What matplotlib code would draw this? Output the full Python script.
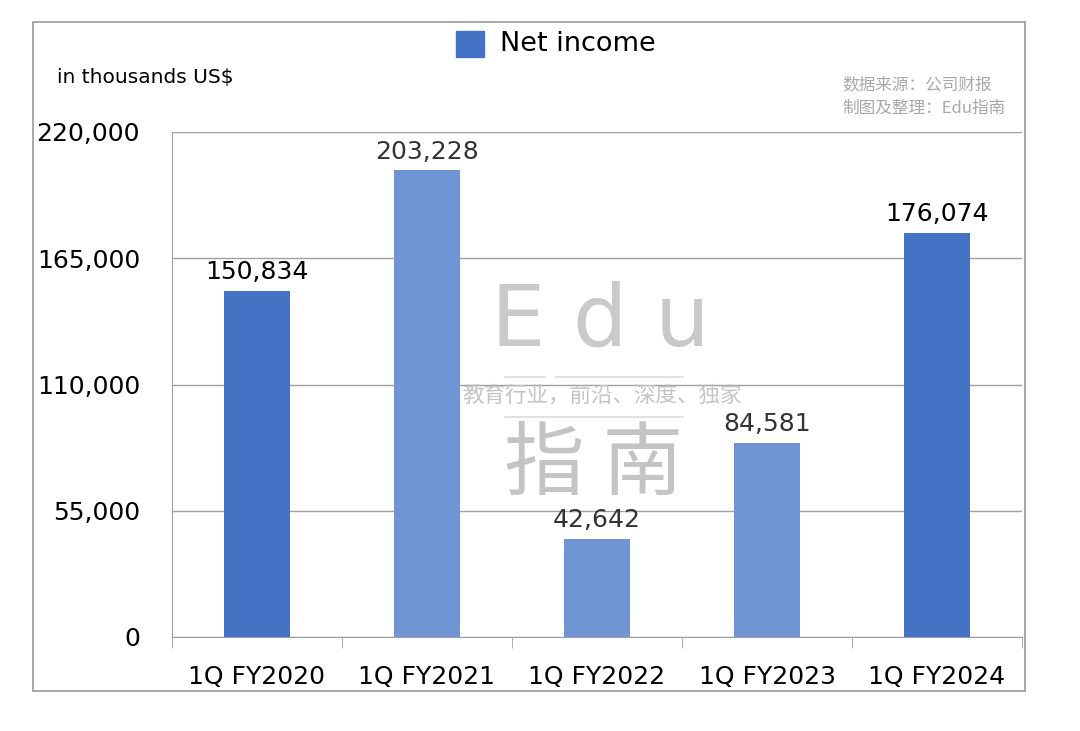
import matplotlib.pyplot as plt
import matplotlib.patches as mpatches
import numpy as np

plt.rcParams['font.family'] = ['DejaVu Sans', 'Noto Sans CJK SC']

categories = ['1Q FY2020', '1Q FY2021', '1Q FY2022', '1Q FY2023', '1Q FY2024']
net_income = [150834, 203228, 42642, 84581, 176074]
bar_colors = ['#4472C4', '#7094D4', '#7094D4', '#7094D4', '#4472C4']
label_colors = ['#000000', '#333333', '#333333', '#333333', '#000000']
yticks = [0, 55000, 110000, 165000, 220000]

fig = plt.figure(figsize=(10.8, 7.31), dpi=100)

# outer frame
frame = mpatches.Rectangle((33 / 1080, 1 - 691 / 731), (1025 - 33) / 1080, (691 - 22) / 731,
                           transform=fig.transFigure, fill=False, edgecolor='#999999', lw=1.2)
fig.patches.append(frame)

ax = fig.add_axes([172 / 1080, 1 - 637 / 731, (1022 - 172) / 1080, (637 - 132) / 731])
x = np.arange(len(categories))
bars = ax.bar(x, net_income, width=0.39, color=bar_colors, zorder=3)

ax.set_xlim(-0.5, len(categories) - 0.5)
ax.set_ylim(0, 220000)
ax.set_yticks(yticks)
ax.set_yticklabels([f'{v:,}' for v in yticks], fontsize=18)
ax.yaxis.grid(True, color='#a0a0a0', lw=1, zorder=0)
ax.tick_params(axis='y', length=0, pad=23)

ax.set_xticks(x)
ax.set_xticklabels(categories, fontsize=18)
ax.set_xticks(np.arange(-0.5, len(categories)), minor=True)
ax.tick_params(axis='x', which='major', length=0, pad=20)
ax.tick_params(axis='x', which='minor', length=8, color='#a0a0a0', direction='out')

for s in ['top', 'right']:
    ax.spines[s].set_visible(False)
for s in ['left', 'bottom']:
    ax.spines[s].set_color('#a0a0a0')

for xi, v, c in zip(x, net_income, label_colors):
    ax.text(xi, v + 3000, f'{v:,}', ha='center', va='bottom', fontsize=18, color=c, zorder=4)

# legend
fig.patches.append(mpatches.Rectangle((456 / 1080, 1 - 57 / 731), 28 / 1080, 26 / 731,
                                      transform=fig.transFigure, color='#4472C4'))
fig.text(500 / 1080, 1 - 44 / 731, 'Net income', fontsize=19.5, va='center', ha='left')

fig.text(57 / 1080, 1 - 77 / 731, 'in thousands US$', fontsize=14.5, va='center', ha='left')

fig.text(842 / 1080, 1 - 85 / 731, '数据来源：公司财报', fontsize=12, color='#a8a8a8',
         ha='left', va='center', family=['Noto Sans CJK SC', 'DejaVu Sans'])
fig.text(842 / 1080, 1 - 108 / 731, '制图及整理：Edu指南', fontsize=12, color='#a8a8a8',
         ha='left', va='center', family=['Noto Sans CJK SC', 'DejaVu Sans'])

# watermark
wm = '#c4c4c4'
fig.text(600 / 1080, 1 - 322 / 731, 'E d u', fontsize=62, color=wm, ha='center', va='center',
         alpha=0.9, zorder=5)
fig.text(602 / 1080, 1 - 396 / 731, '教育行业，前沿、深度、独家', fontsize=15.5, color=wm, ha='center',
         va='center', family=['Noto Sans CJK SC', 'DejaVu Sans'], zorder=5)
fig.text(594 / 1080, 1 - 466 / 731, '指 南', fontsize=58, color=wm, ha='center', va='center',
         family=['Noto Sans CJK SC', 'DejaVu Sans'], zorder=5)
fig.add_artist(plt.Line2D([505 / 1080, 545 / 1080], [1 - 377 / 731] * 2, color='#dddddd', lw=1.2))
fig.add_artist(plt.Line2D([556 / 1080, 683 / 1080], [1 - 377 / 731] * 2, color='#dddddd', lw=1.2))
fig.add_artist(plt.Line2D([505 / 1080, 683 / 1080], [1 - 417 / 731] * 2, color='#dddddd', lw=1.2))

fig.savefig('out.png', dpi=100)
